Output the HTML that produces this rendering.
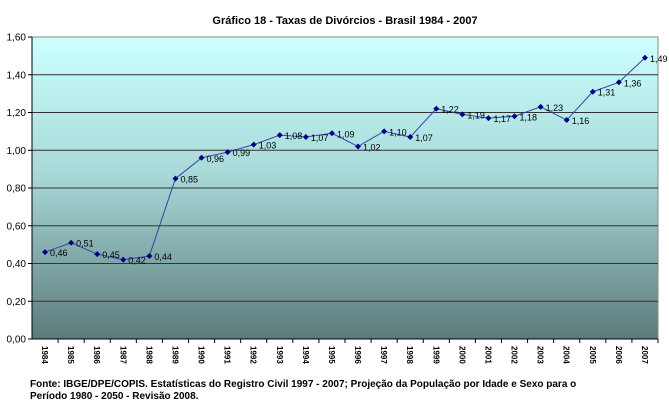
<!DOCTYPE html>
<html><head><meta charset="utf-8"><style>
body{margin:0;width:669px;height:404px;background:#fff;font-family:"Liberation Sans",sans-serif;overflow:hidden}
</style></head><body>
<svg width="669" height="404">
<defs><linearGradient id="bg" x1="0" y1="0" x2="0" y2="1">
<stop offset="0" stop-color="#ccffff"/><stop offset="0.45" stop-color="#a9d9d9"/><stop offset="1" stop-color="#5c7b7b"/></linearGradient></defs>
<text x="345" y="24" text-anchor="middle" font-size="11" font-weight="bold">Gráfico 18 - Taxas de Divórcios - Brasil 1984 - 2007</text>
<rect x="32" y="37" width="626" height="302" fill="url(#bg)" stroke="#888"/>
<g id="grid"></g><g id="axes"></g><g id="series"></g>
<text x="30" y="387" font-size="10" font-weight="bold">Fonte: IBGE/DPE/COPIS. Estatísticas do Registro Civil 1997 - 2007;  Projeção da População por Idade e Sexo para o</text>
<text x="30" y="399" font-size="10" font-weight="bold">Período 1980 - 2050 - Revisão 2008.</text>
</svg>
<script>
const years=["1984","1985","1986","1987","1988","1989","1990","1991","1992","1993","1994","1995","1996","1997","1998","1999","2000","2001","2002","2003","2004","2005","2006","2007"];
const rates=[0.46,0.51,0.45,0.42,0.44,0.85,0.96,0.99,1.03,1.08,1.07,1.09,1.02,1.10,1.07,1.22,1.19,1.17,1.18,1.23,1.16,1.31,1.36,1.49];
const yTicks=[0,0.2,0.4,0.6,0.8,1.0,1.2,1.4,1.6];
const NS="http://www.w3.org/2000/svg";
const L=32,R=658,T=37,B=339,yMax=1.6;
const step=(R-L)/years.length;
const x=i=>L+step*(i+0.5);
const y=v=>B-(v/yMax)*(B-T);
const fmt=v=>v.toFixed(2).replace('.',',');
function mk(t,a,p){const e=document.createElementNS(NS,t);for(const k in a)e.setAttribute(k,a[k]);p.appendChild(e);return e;}
const grid=document.getElementById('grid'),axes=document.getElementById('axes'),ser=document.getElementById('series');
yTicks.forEach(v=>{
 if(v>0&&v<yMax){const g=mk('line',{x1:L,x2:R,y1:y(v),y2:y(v),stroke:'#333','stroke-width':1},grid);
 
 }
 const tk=mk('line',{x1:L-4,x2:L,y1:y(v),y2:y(v),stroke:'#000'},axes);
 
 
 const t=mk('text',{x:L-6,y:y(v)+3.5,'text-anchor':'end','font-size':10},axes);t.textContent=fmt(v);
 
 
});
const ax=mk('line',{x1:L,x2:L,y1:T,y2:B,stroke:'#000'},axes);


const bx=mk('line',{x1:L,x2:R,y1:B,y2:B,stroke:'#000'},axes);


years.forEach((yr,i)=>{
 const tk=mk('line',{x1:L+step*(i+1),x2:L+step*(i+1),y1:B,y2:B+4,stroke:'#000'},axes);
 
 
 const t=mk('text',{x:0,y:0,'font-size':8,'font-weight':'bold',transform:`translate(${x(i)-3},${B+7}) rotate(90)`},axes);t.textContent=yr;
 
 
});
const pl=mk('polyline',{points:rates.map((v,i)=>x(i)+','+y(v)).join(' '),fill:'none',stroke:'#3344aa','stroke-width':1},ser);


rates.forEach((v,i)=>{
 const cx=x(i),cy=y(v);
 const m=mk('path',{d:`M${cx} ${cy-3}L${cx+3} ${cy}L${cx} ${cy+3}L${cx-3} ${cy}Z`,fill:'#000080'},ser);
 
 
 const t=mk('text',{x:cx+5,y:cy+4,'font-size':9},ser);t.textContent=fmt(v);
 
 
});
</script>
</body></html>
